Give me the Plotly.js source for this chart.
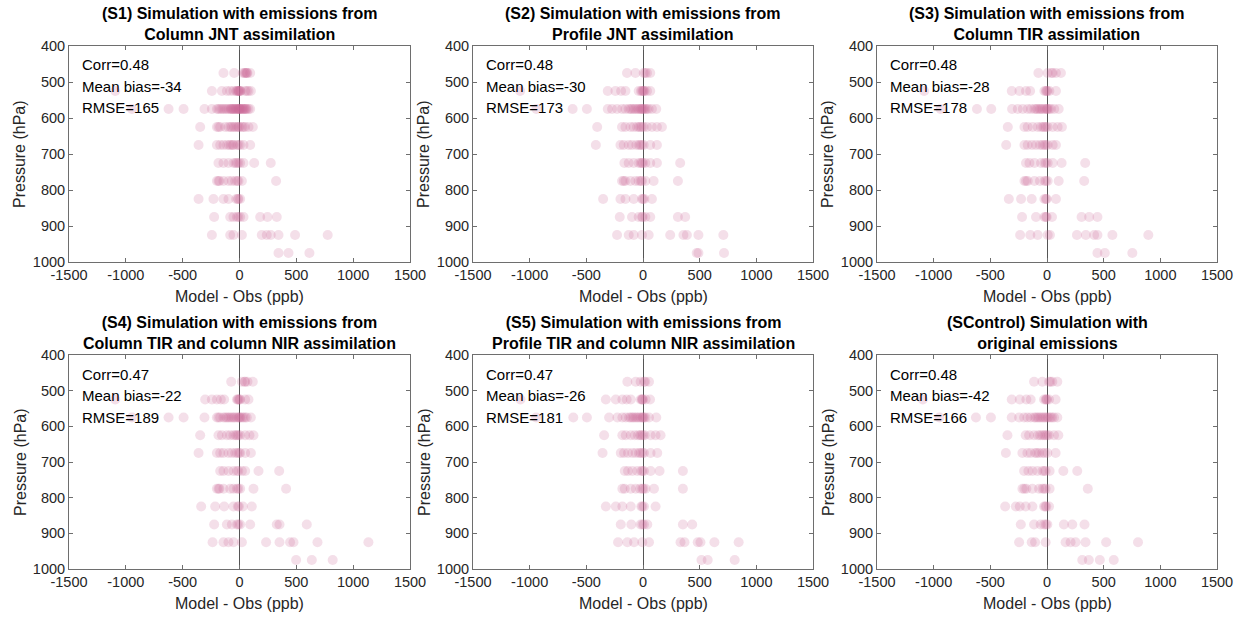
<!DOCTYPE html>
<html>
<head>
<meta charset="utf-8">
<script src="https://cdn.plot.ly/plotly-3.0.1.min.js"></script>
<style>html,body{margin:0;padding:0;background:#fff;}#chart{width:1243px;height:617px;}</style>
</head>
<body>
<div id="chart"></div>
<script>
// ---- data ----
var pressureLevels = [475, 525, 575, 625, 675, 725, 775, 825, 875, 925, 975];

var panelTitles = [
  "(S1) Simulation with emissions from<br>Column JNT assimilation",
  "(S2) Simulation with emissions from<br>Profile JNT assimilation",
  "(S3) Simulation with emissions from<br>Column TIR assimilation",
  "(S4) Simulation with emissions from<br>Column TIR and column NIR assimilation",
  "(S5) Simulation with emissions from<br>Profile TIR and column NIR assimilation",
  "(SControl) Simulation with<br>original emissions"
];
var corrValues = ["0.48", "0.48", "0.48", "0.47", "0.47", "0.48"];
var meanBiasValues = ["-34", "-30", "-28", "-22", "-26", "-42"];
var rmseValues = ["165", "173", "178", "189", "181", "166"];

// Model - Obs (ppb) per pressure level (one inner list per level in pressureLevels)
var s1Diff = [
  [-141, -47, 29, 45, 50, 60, 64, 70, 94],
  [-1093, -243, -155, -111, -82, -53, -30, -23, -15, -9, -5, 0, 6, 12, 50, 65, 79, 100],
  [-946, -624, -492, -308, -243, -199, -185, -170, -155, -141, -126, -111, -97, -82, -75, -67, -60, -53, -45, -38, -30, -23, -15, -9, -3, 0, 6, 12, 21, 28, 35, 42, 50, 57, 64, 79, 94],
  [-346, -199, -185, -170, -126, -97, -80, -67, -50, -38, -20, -9, 0, 21, 35, 50, 79, 117],
  [-360, -199, -170, -141, -111, -90, -76, -60, -53, -23, -9, 6, 35, 94],
  [-185, -141, -97, -53, -35, -23, -10, 6, 35, 129, 275],
  [-199, -185, -176, -141, -97, -67, -38, -20, -9, 21, 322],
  [-360, -229, -141, -97, -29, -15, -9, 6],
  [-223, -82, -53, -23, -10, 6, 35, 182, 246, 328],
  [-243, -82, -53, 21, 196, 240, 275, 343, 489, 776],
  [343, 431, 615]
];
var s2Diff = [
  [-141, -67, 6, 20, 35, 64],
  [-1084, -311, -243, -193, -155, -38, -18, -8, 0, 6, 15, 35, 64],
  [-940, -621, -495, -311, -273, -229, -185, -155, -126, -110, -97, -80, -67, -50, -38, -25, -15, -9, 0, 10, 21, 35, 50, 79, 117],
  [-404, -185, -155, -111, -82, -53, -35, -23, -10, 6, 35, 79, 123, 167],
  [-416, -199, -170, -126, -97, -59, -35, -23, -10, 6, 64, 123],
  [-164, -126, -82, -38, -20, -9, 0, 21, 64, 123, 328],
  [-185, -170, -155, -111, -67, -38, -20, -9, 21, 94, 308],
  [-352, -199, -155, -82, -9, 0, 12, 79],
  [-205, -97, -38, -10, -3, 21, 64, 308, 372],
  [-229, -126, -82, -9, 50, 240, 357, 387, 489, 709],
  [474, 489, 715]
];
var s3Diff = [
  [-76, 6, 40, 50, 79, 123],
  [-1084, -311, -243, -185, -149, -23, -10, -3, 5, 21, 79],
  [-938, -618, -492, -308, -258, -214, -170, -141, -111, -95, -82, -65, -53, -40, -23, -10, 0, 6, 20, 35, 64, 103],
  [-346, -199, -170, -126, -82, -53, -35, -23, -10, 6, 50, 94, 132],
  [-360, -199, -170, -132, -97, -62, -40, -23, -10, 6, 50, 79],
  [-185, -155, -111, -53, -23, -10, 6, 50, 129, 337],
  [-199, -185, -170, -111, -62, -23, -10, 6, 103, 328],
  [-337, -229, -135, -23, -10, -3, 79],
  [-220, -97, -23, -10, -3, 44, 305, 372, 445],
  [-237, -147, -82, 6, 26, 264, 343, 416, 445, 577, 894],
  [445, 510, 753]
];
var s4Diff = [
  [-73, 21, 45, 50, 70, 117],
  [-1093, -302, -243, -199, -164, -135, -23, -15, -9, 0, 6, 50, 79],
  [-946, -624, -492, -308, -199, -185, -170, -141, -125, -111, -97, -82, -67, -53, -40, -23, -10, 0, 6, 20, 35, 50, 64, 100],
  [-346, -185, -155, -111, -82, -53, -35, -23, -10, 6, 50, 88, 123],
  [-360, -199, -170, -141, -97, -67, -38, -20, -5, 6, 50, 100],
  [-170, -141, -97, -53, -23, -10, 21, 50, 167, 349],
  [-199, -185, -176, -141, -82, -53, -23, -10, 6, 123, 410],
  [-337, -214, -135, -53, -15, -5, 29, 108],
  [-223, -111, -67, -23, -10, 6, 94, 328, 352, 592],
  [-237, -141, -97, -53, 21, 234, 352, 445, 475, 686, 1134],
  [498, 636, 820]
];
var s5Diff = [
  [-138, -64, -21, 9, 20, 53],
  [-1081, -328, -240, -182, -144, -108, -21, -10, -6, 0, 23, 62],
  [-943, -615, -495, -299, -226, -182, -152, -123, -108, -94, -80, -64, -50, -35, -20, -6, 0, 10, 23, 53, 117],
  [-343, -182, -152, -108, -73, -44, -25, -15, 0, 15, 67, 111, 155],
  [-357, -196, -167, -132, -94, -64, -35, -21, -5, 9, 67, 126],
  [-161, -132, -94, -50, -15, -5, 9, 67, 146, 352],
  [-182, -161, -108, -64, -26, -6, 5, 23, 97, 352],
  [-328, -240, -182, -108, -15, -5, 9, 111],
  [-196, -103, -21, -5, 9, 38, 352, 434],
  [-220, -138, -79, -6, 53, 331, 366, 483, 507, 630, 844],
  [516, 571, 809]
];
var s6Diff = [
  [-114, -41, 18, 30, 47, 91],
  [-1096, -311, -240, -182, -144, -26, -12, -5, 0, 18, 76],
  [-949, -627, -495, -311, -246, -202, -173, -144, -114, -100, -85, -70, -56, -40, -26, -12, 3, 15, 32, 45, 62, 91],
  [-349, -188, -158, -114, -79, -60, -41, -25, -12, 3, 18, 62, 100],
  [-363, -217, -173, -144, -105, -90, -70, -41, -20, 3, 76],
  [-202, -164, -129, -85, -41, -25, -12, 23, 144, 267],
  [-217, -200, -182, -129, -70, -41, -25, -12, 23, 360],
  [-369, -275, -240, -188, -129, -26, -15, -6, 18],
  [-231, -114, -56, -26, -10, 3, 149, 223, 331],
  [-246, -135, -105, -12, 164, 208, 252, 340, 522, 803],
  [311, 369, 466, 589]
];
var panelData = [s1Diff, s2Diff, s3Diff, s4Diff, s5Diff, s6Diff];

var xTicks = [-1500, -1000, -500, 0, 500, 1000, 1500];
var yTicks = [400, 500, 600, 700, 800, 900, 1000];

// ---- layout geometry (pixels) ----
var W = 1243, H = 617;
var colPx = [[69, 410], [473, 813], [877, 1217]];
var rowPx = [[46, 262], [355, 569]];
function px(x) { return x / W; }
function py(y) { return 1 - y / H; }

var FONT = "Liberation Sans, Arial, Helvetica, sans-serif";
var traces = [];
var layout = {
  width: W, height: H,
  margin: {l: 0, r: 0, t: 0, b: 0},
  paper_bgcolor: "#ffffff",
  plot_bgcolor: "#ffffff",
  showlegend: false,
  font: {family: FONT, size: 14, color: "#262626"},
  annotations: []
};

for (var k = 0; k < 6; k++) {
  var r = Math.floor(k / 3), c = k % 3;
  var xs = [], ys = [];
  var d = panelData[k];
  for (var li = 0; li < pressureLevels.length; li++) {
    for (var j = 0; j < d[li].length; j++) {
      xs.push(d[li][j]);
      ys.push(pressureLevels[li]);
    }
  }
  var sfx = k === 0 ? "" : String(k + 1);
  traces.push({
    type: "scatter", mode: "markers",
    x: xs, y: ys,
    xaxis: "x" + sfx, yaxis: "y" + sfx,
    marker: {size: 10, color: "rgb(204,102,153)", opacity: 0.21, line: {width: 0}},
    hoverinfo: "x+y"
  });
  var axCommon = {
    showline: true, mirror: "ticks", linecolor: "#6e6e6e", linewidth: 1,
    ticks: "inside", ticklen: 4, tickcolor: "#6e6e6e", tickwidth: 1,
    showgrid: false,
    tickfont: {family: FONT, size: 14.5, color: "#262626"}
  };
  var xa = Object.assign({}, axCommon, {
    domain: [px(colPx[c][0]), px(colPx[c][1])],
    range: [-1500, 1500],
    tickvals: xTicks, ticktext: xTicks.map(String),
    zeroline: true, zerolinecolor: "#555555", zerolinewidth: 1,
    anchor: "y" + sfx
  });
  var ya = Object.assign({}, axCommon, {
    domain: [py(rowPx[r][1]), py(rowPx[r][0])],
    range: [1000, 400],
    tickvals: yTicks, ticktext: yTicks.map(String),
    zeroline: false,
    anchor: "x" + sfx
  });
  layout["xaxis" + sfx] = xa;
  layout["yaxis" + sfx] = ya;

  var cx = (colPx[c][0] + colPx[c][1]) / 2;
  // panel title
  layout.annotations.push({
    xref: "paper", yref: "paper", x: px(cx), y: py(rowPx[r][0] - 1),
    xanchor: "center", yanchor: "bottom", showarrow: false,
    text: "<b>" + panelTitles[k] + "</b>",
    font: {family: FONT, size: 16, color: "#000000"}
  });
  // x label
  layout.annotations.push({
    xref: "paper", yref: "paper", x: px(cx), y: py(rowPx[r][1] + 34),
    xanchor: "center", yanchor: "middle", showarrow: false,
    text: "Model - Obs (ppb)",
    font: {family: FONT, size: 16, color: "#262626"}
  });
  // y label
  layout.annotations.push({
    xref: "paper", yref: "paper", x: px(colPx[c][0] - 49), y: py((rowPx[r][0] + rowPx[r][1]) / 2),
    xanchor: "center", yanchor: "middle", showarrow: false, textangle: -90,
    text: "Pressure (hPa)",
    font: {family: FONT, size: 16, color: "#262626"}
  });
  // stats
  var stats = ["Corr=" + corrValues[k], "Mean bias=" + meanBiasValues[k], "RMSE=" + rmseValues[k]];
  for (var s = 0; s < 3; s++) {
    layout.annotations.push({
      xref: "paper", yref: "paper", x: px(colPx[c][0] + 11), y: py(rowPx[r][0] + 19 + s * 21.5),
      xanchor: "left", yanchor: "middle", showarrow: false,
      text: stats[s],
      font: {family: FONT, size: 15, color: "#000000"}
    });
  }
}

Plotly.newPlot("chart", traces, layout, {displayModeBar: false, staticPlot: true});
</script>
</body>
</html>
